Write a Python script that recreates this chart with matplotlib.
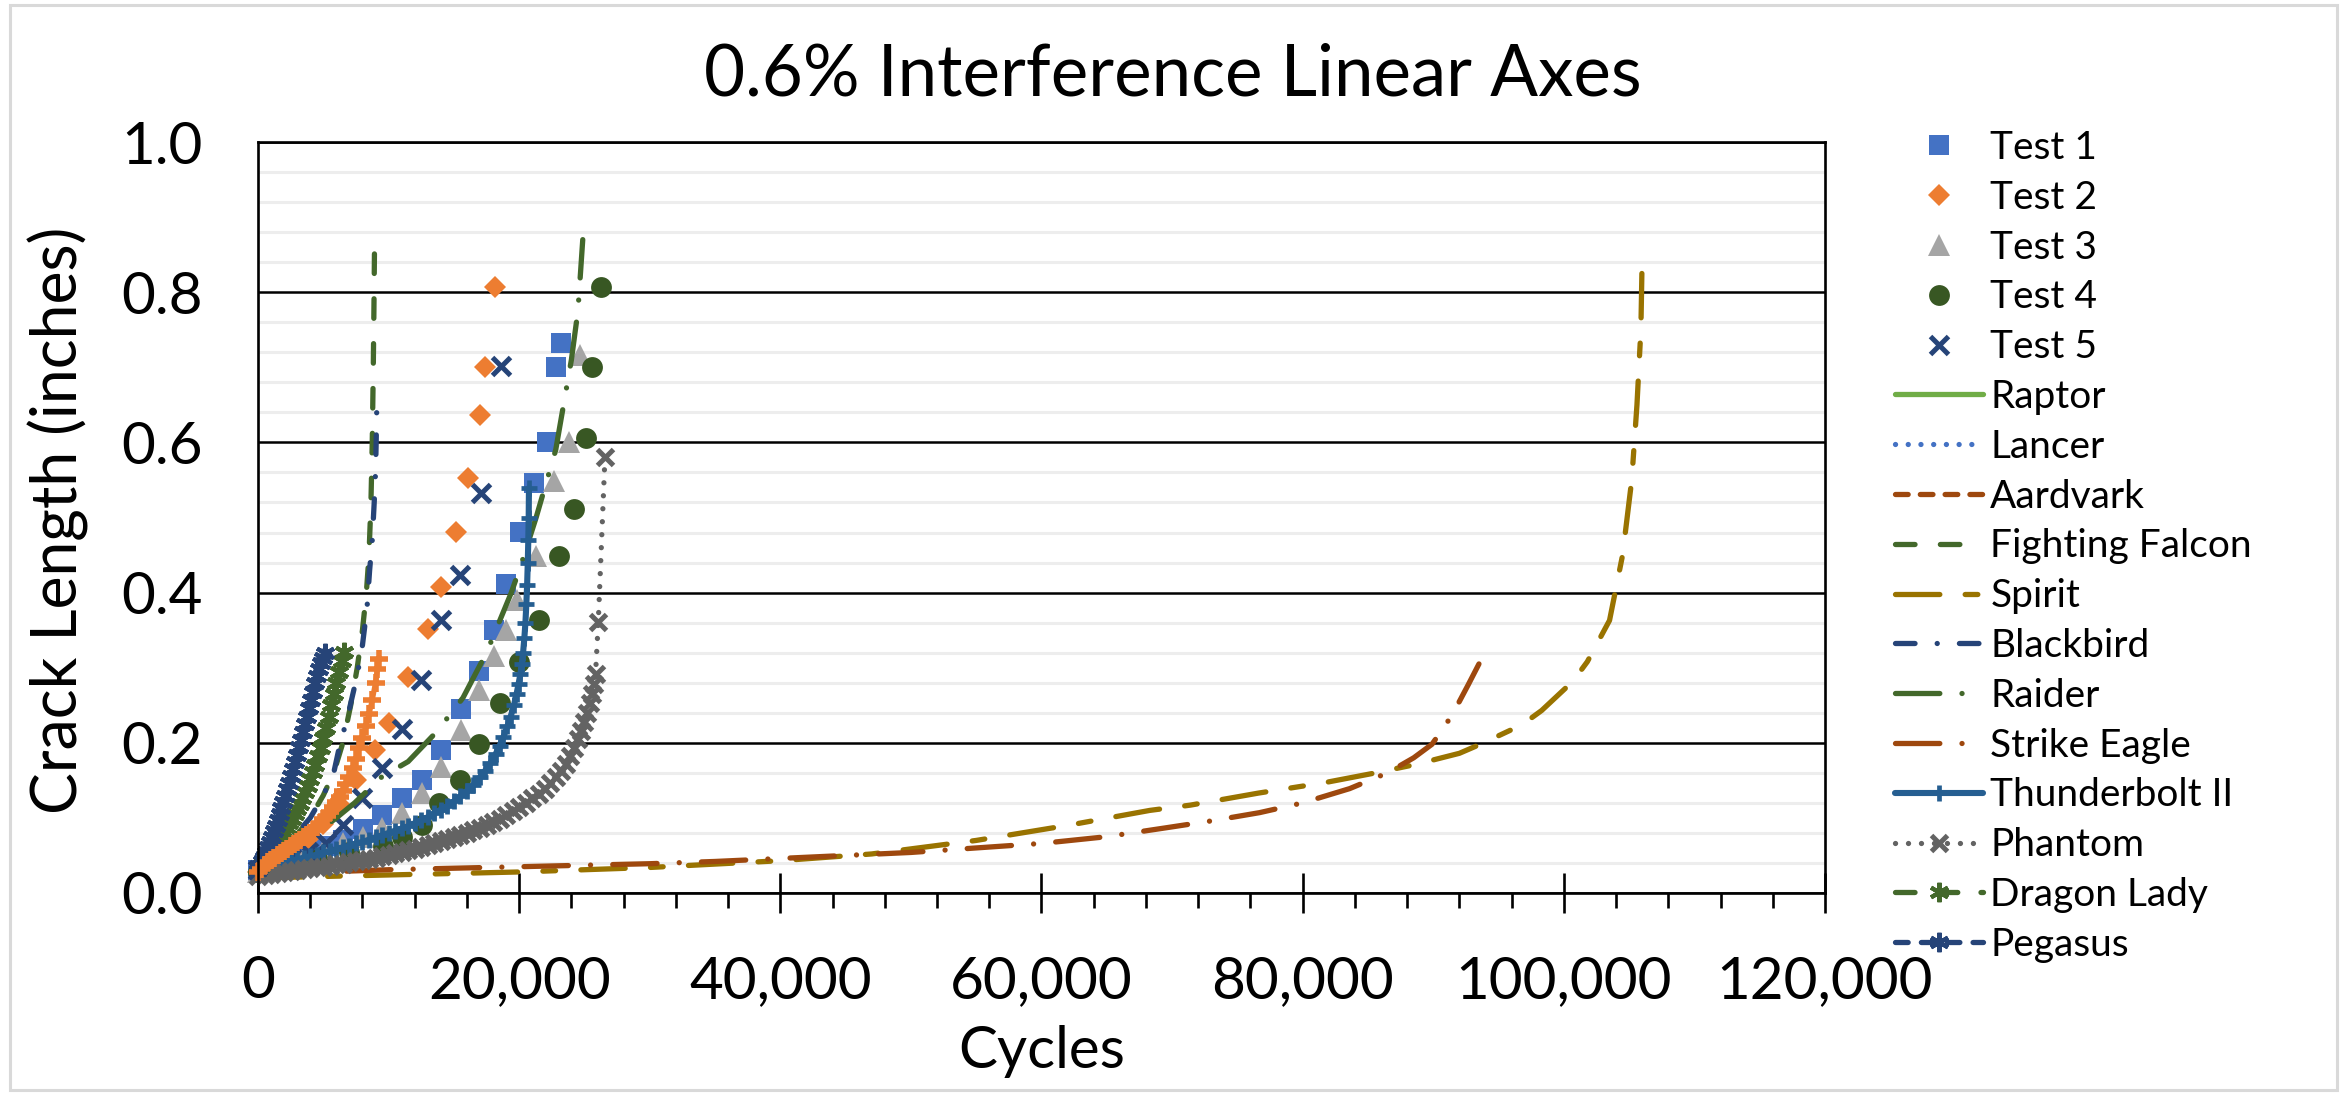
import matplotlib
matplotlib.use("Agg")
import matplotlib.pyplot as plt
from matplotlib.ticker import MultipleLocator, FuncFormatter
from matplotlib.patches import Rectangle

plt.rcParams["font.family"] = ["Lato", "DejaVu Sans"]

# ---- test data (cycles, crack length in inches) ----
test1_x = [0, 1500, 3500, 5130, 6540, 8010, 9470, 11050, 12530, 14010, 15520, 16950, 18070, 18990, 20050, 21160, 22110, 22830, 23190]
test1_y = [0.030, 0.040, 0.050, 0.062, 0.071, 0.085, 0.104, 0.126, 0.151, 0.190, 0.245, 0.295, 0.350, 0.412, 0.481, 0.546, 0.601, 0.700, 0.732]

test2_x = [0, 1200, 2500, 3800, 5000, 6200, 7500, 8960, 10060, 11460, 13040, 14010, 15150, 16110, 17030, 17420, 18170]
test2_y = [0.028, 0.040, 0.055, 0.072, 0.092, 0.118, 0.150, 0.191, 0.226, 0.288, 0.352, 0.407, 0.481, 0.552, 0.637, 0.700, 0.807]

test3_x = [0, 1500, 3500, 5000, 6480, 8010, 9470, 11050, 12530, 13990, 15520, 16950, 18070, 18970, 19810, 21260, 22680, 23790, 24640]
test3_y = [0.028, 0.036, 0.046, 0.056, 0.066, 0.075, 0.086, 0.106, 0.133, 0.168, 0.217, 0.270, 0.315, 0.350, 0.390, 0.449, 0.549, 0.601, 0.717]

test4_x = [0, 2000, 4500, 7000, 9610, 11050, 12530, 13860, 15470, 16950, 18530, 20010, 21520, 23050, 24170, 25150, 25590, 26230]
test4_y = [0.028, 0.035, 0.045, 0.054, 0.062, 0.075, 0.091, 0.120, 0.150, 0.198, 0.253, 0.308, 0.363, 0.449, 0.511, 0.606, 0.700, 0.807]

test5_x = [0, 1200, 2500, 3800, 5210, 6540, 7940, 9470, 11050, 12480, 14010, 15470, 17090, 18580]
test5_y = [0.030, 0.038, 0.046, 0.055, 0.066, 0.091, 0.126, 0.166, 0.218, 0.283, 0.363, 0.423, 0.532, 0.702]

# ---- model predictions ----
falcon_x = [0, 1000, 2000, 3000, 4000, 5000, 5800, 6500, 7100, 7600, 8000, 8300, 8500, 8650, 8750, 8830, 8880, 8920]
falcon_y = [0.030, 0.045, 0.060, 0.078, 0.100, 0.130, 0.160, 0.200, 0.250, 0.300, 0.350, 0.400, 0.450, 0.520, 0.600, 0.700, 0.780, 0.855]

spirit_x = [0, 10000, 20000, 30000, 40000, 47000, 55000, 62000, 68300, 71400, 76600, 81700, 85300, 88600, 92000, 93600, 96800, 98300, 100700, 101800, 103500, 104500, 105200, 105600, 105900, 106000]
spirit_y = [0.020, 0.024, 0.028, 0.034, 0.043, 0.052, 0.070, 0.090, 0.110, 0.117, 0.133, 0.147, 0.159, 0.171, 0.186, 0.198, 0.224, 0.243, 0.282, 0.308, 0.363, 0.450, 0.550, 0.650, 0.750, 0.848]

blackbird_x = [0, 1000, 2000, 3000, 4000, 5000, 5800, 6300, 6800, 7200, 7600, 8000, 8350, 8550, 8750, 8900, 9000, 9050, 9100]
blackbird_y = [0.030, 0.045, 0.060, 0.080, 0.100, 0.130, 0.160, 0.200, 0.230, 0.260, 0.290, 0.330, 0.380, 0.430, 0.470, 0.520, 0.560, 0.600, 0.650]

raider_x = [0, 3000, 6000, 7400, 9500, 11500, 13700, 15700, 17500, 19400, 20200, 21300, 22800, 23400, 24000, 24500, 24870]
raider_y = [0.030, 0.060, 0.100, 0.120, 0.155, 0.175, 0.215, 0.260, 0.320, 0.400, 0.440, 0.500, 0.590, 0.650, 0.710, 0.775, 0.870]

eagle_x = [0, 5000, 10000, 15000, 20000, 25000, 30000, 35000, 40000, 45000, 50000, 55000, 60000, 65000, 69600, 73000, 76700, 80000, 83600, 86500, 88500, 89900, 91000, 92000, 92700, 93500]
eagle_y = [0.025, 0.028, 0.031, 0.033, 0.035, 0.037, 0.039, 0.042, 0.046, 0.050, 0.054, 0.060, 0.066, 0.075, 0.087, 0.096, 0.107, 0.120, 0.139, 0.160, 0.180, 0.198, 0.225, 0.255, 0.278, 0.305]

thunder_x = [0, 500, 1000, 1500, 2000, 2500, 3000, 3500, 4000, 4500, 5000, 5500, 6000, 6500, 7000, 7500, 8000, 8500, 9000, 9500,
             10000, 10500, 11000, 11500, 12000, 12500, 13000, 13500, 14000, 14500, 15000, 15500, 16000, 16500, 17000, 17400, 17800,
             18200, 18500, 18800, 19100, 19350, 19600, 19800, 19950, 20100, 20200, 20300, 20400, 20480, 20550, 20610, 20660, 20700, 20730, 20750]
thunder_y = [0.031, 0.034, 0.036, 0.039, 0.041, 0.043, 0.045, 0.047, 0.049, 0.051, 0.054, 0.056, 0.058, 0.061, 0.063, 0.066, 0.068, 0.071, 0.074, 0.077,
             0.080, 0.083, 0.086, 0.089, 0.093, 0.097, 0.101, 0.106, 0.111, 0.116, 0.122, 0.129, 0.136, 0.144, 0.154, 0.163, 0.173,
             0.185, 0.196, 0.208, 0.222, 0.235, 0.250, 0.265, 0.278, 0.292, 0.305, 0.320, 0.340, 0.360, 0.385, 0.410, 0.440, 0.470, 0.500, 0.539]

phantom_x = [0, 500, 1000, 1500, 2000, 2500, 3000, 3500, 4000, 4500, 5000, 5500, 6000, 6500, 7000, 7500, 8000, 8500, 9000, 9500,
             10000, 10500, 11000, 11500, 12000, 12500, 13000, 13500, 14000, 14500, 15000, 15500, 16000, 16500, 17000, 17500, 18000,
             18500, 19000, 19500, 20000, 20500, 21000, 21500, 22000, 22400, 22800, 23200, 23550, 23900, 24200, 24500, 24750, 25000,
             25200, 25400, 25550, 25700, 25850, 26060, 26570]
phantom_y = [0.022, 0.024, 0.025, 0.026, 0.028, 0.029, 0.030, 0.032, 0.033, 0.034, 0.035, 0.036, 0.038, 0.039, 0.041, 0.042, 0.044, 0.045, 0.047, 0.049,
             0.051, 0.053, 0.055, 0.057, 0.059, 0.061, 0.064, 0.066, 0.069, 0.072, 0.074, 0.077, 0.080, 0.084, 0.087, 0.091, 0.095,
             0.099, 0.104, 0.109, 0.114, 0.120, 0.126, 0.132, 0.139, 0.146, 0.154, 0.163, 0.172, 0.182, 0.193, 0.205, 0.216, 0.228,
             0.240, 0.253, 0.265, 0.278, 0.292, 0.361, 0.580]

dragon_x = [0, 200, 400, 600, 800, 1000, 1200, 1400, 1600, 1800, 2000, 2200, 2400, 2600, 2800, 3000, 3200, 3400, 3600, 3800,
            4000, 4200, 4400, 4600, 4800, 5000, 5200, 5400, 5600, 5800, 6000, 6200, 6400, 6550]
dragon_y = [0.030, 0.036, 0.041, 0.046, 0.051, 0.056, 0.061, 0.066, 0.071, 0.076, 0.081, 0.087, 0.093, 0.099, 0.105, 0.112, 0.119, 0.126, 0.134, 0.143,
            0.152, 0.161, 0.171, 0.182, 0.193, 0.206, 0.220, 0.235, 0.250, 0.265, 0.279, 0.294, 0.309, 0.321]

pegasus_x = [0, 150, 300, 450, 600, 750, 900, 1050, 1200, 1350, 1500, 1650, 1800, 1950, 2100, 2250, 2400, 2550, 2700, 2850,
             3000, 3150, 3300, 3450, 3600, 3750, 3900, 4050, 4200, 4350, 4500, 4650, 4800, 4950, 5100]
pegasus_y = [0.030, 0.036, 0.042, 0.048, 0.054, 0.061, 0.068, 0.075, 0.082, 0.089, 0.097, 0.105, 0.113, 0.121, 0.129, 0.138, 0.147, 0.156, 0.165, 0.175,
             0.184, 0.194, 0.204, 0.214, 0.225, 0.235, 0.246, 0.257, 0.268, 0.279, 0.289, 0.298, 0.306, 0.313, 0.319]

extra_x = [0, 250, 500, 750, 1000, 1250, 1500, 1750, 2000, 2250, 2500, 2750, 3000, 3250, 3500, 3750, 4000, 4250, 4500, 4750,
           5000, 5250, 5500, 5750, 6000, 6250, 6500, 6750, 7000, 7250, 7500, 7750, 8000, 8250, 8500, 8750, 9000, 9150, 9250]
extra_y = [0.028, 0.032, 0.037, 0.041, 0.044, 0.047, 0.050, 0.053, 0.056, 0.059, 0.062, 0.065, 0.068, 0.071, 0.074, 0.077, 0.080, 0.084, 0.088, 0.093,
           0.098, 0.103, 0.108, 0.114, 0.121, 0.128, 0.136, 0.145, 0.155, 0.166, 0.179, 0.193, 0.207, 0.222, 0.238, 0.257, 0.280, 0.298, 0.312]

ASTER = (6, 2, 0)

fig = plt.figure(figsize=(23.46, 10.94), dpi=100)
ax = fig.add_axes([0.10997, 0.18373, 0.66795, 0.68647])

# test points
ax.plot(test1_x, test1_y, ls="none", marker="s", ms=14.5, mew=0, color="#4472C4", label="Test 1", clip_on=False)
ax.plot(test2_x, test2_y, ls="none", marker="D", ms=11.5, mew=0, color="#ED7D31", label="Test 2", clip_on=False)
ax.plot(test3_x, test3_y, ls="none", marker="^", ms=16, mew=0, color="#A5A5A5", label="Test 3", clip_on=False)
ax.plot(test4_x, test4_y, ls="none", marker="o", ms=15, mew=0, color="#385723", label="Test 4", clip_on=False)
ax.plot(test5_x, test5_y, ls="none", marker="x", ms=12.5, mew=3.6, color="#264478", label="Test 5", clip_on=False)

LW = 3.8
common = dict(lw=LW, dash_capstyle="round", solid_capstyle="round", clip_on=False)
ax.plot([], [], color="#70AD47", ls="-", label="Raptor", **common)
ax.plot([], [], color="#4472C4", ls=(0, (0.01, 2.4)), label="Lancer", **common)
ax.plot([], [], color="#9E480E", ls=(0, (2.4, 2.3)), label="Aardvark", **common)
ax.plot(falcon_x, falcon_y, color="#43682B", ls=(0, (3.7, 4.8)), label="Fighting Falcon", **common)
ax.plot(spirit_x, spirit_y, color="#997300", ls=(0, (8.4, 4.8, 2.4, 4.8)), label="Spirit", **common)
ax.plot(blackbird_x, blackbird_y, color="#264478", ls=(0, (3.7, 4.2, 0.01, 4.2)), label="Blackbird", **common)
ax.plot(raider_x, raider_y, color="#43682B", ls=(0, (8.4, 4.2, 0.01, 4.2)), label="Raider", **common)
ax.plot(eagle_x, eagle_y, color="#9E480E", ls=(0, (8.4, 4.2, 0.01, 4.2)), label="Strike Eagle", **common)
ax.plot(thunder_x, thunder_y, color="#255E91", ls="-", marker="+", ms=11, mew=3.4, label="Thunderbolt II",
        **dict(common, lw=4.4))
ax.plot(phantom_x, phantom_y, color="#636363", ls=(0, (0.01, 2.45)), marker="x", ms=11, mew=3.6, label="Phantom", **common)
ax.plot(dragon_x, dragon_y, color="#43682B", ls=(0, (3.7, 4.4)), marker=ASTER, ms=14, mew=3, label="Dragon Lady", **common)
ax.plot(pegasus_x, pegasus_y, color="#264478", ls=(0, (2.4, 2.5)), marker=ASTER, ms=14, mew=3, label="Pegasus", **common)
ax.plot(extra_x, extra_y, color="#ED7D31", ls="-", marker="+", ms=13, mew=4, label="_nolegend_", **common)

ax.set_xlim(0, 120000)
ax.set_ylim(0, 1.0)
ax.xaxis.set_major_locator(MultipleLocator(20000))
ax.xaxis.set_minor_locator(MultipleLocator(4000))
ax.yaxis.set_major_locator(MultipleLocator(0.2))
ax.yaxis.set_minor_locator(MultipleLocator(0.04))
ax.xaxis.set_major_formatter(FuncFormatter(lambda v, p: f"{v:,.0f}"))
ax.yaxis.set_major_formatter(FuncFormatter(lambda v, p: f"{v:.1f}"))

ax.grid(which="major", axis="y", color="black", lw=1.8, zorder=0)
ax.grid(which="minor", axis="y", color="#EDEDED", lw=2.2, zorder=0)
ax.set_axisbelow(True)
for s in ax.spines.values():
    s.set_linewidth(1.9)
    s.set_color("black")

ax.tick_params(axis="x", which="major", direction="inout", length=29, width=1.9, pad=30, labelsize=42)
ax.tick_params(axis="x", which="minor", direction="out", length=11, width=1.9)
ax.tick_params(axis="y", which="both", length=0, pad=40, labelsize=42)

fig.text(0.5, 1 - 75 / 1094, "0.6% Interference Linear Axes", ha="center", va="center", fontsize=51)
fig.text(0.5 * (258 + 1825) / 2346, 1 - 1068 / 1094, "Cycles", ha="center", va="baseline", fontsize=42)
fig.text(58 / 2346, 1 - 520 / 1094, "Crack Length (inches)", ha="center", va="center", rotation=90, fontsize=45)

ax.legend(loc="upper left", bbox_to_anchor=(1895 / 2346, 1 - 130 / 1094), bbox_transform=fig.transFigure,
          frameon=False, fontsize=28, borderpad=0, borderaxespad=0, handlelength=2.27, handletextpad=0.18,
          labelspacing=0.355, numpoints=1)

fig.patches.append(Rectangle((10 / 2346, 4 / 1094), 2327 / 2346, 1085 / 1094, transform=fig.transFigure,
                             fill=False, edgecolor="#D9D9D9", lw=2.2))

fig.savefig("out.png", dpi=100)
